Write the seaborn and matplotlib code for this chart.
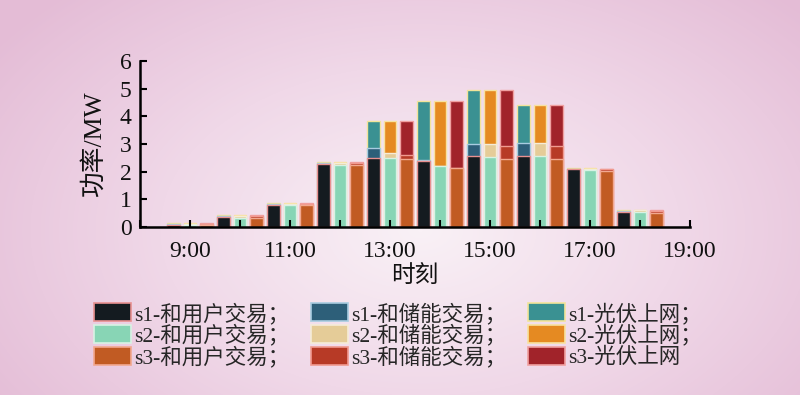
import numpy as np
import pandas as pd
import matplotlib
matplotlib.use("Agg")
import matplotlib.pyplot as plt
import seaborn as sns
from matplotlib.patches import Patch
from matplotlib.colors import LinearSegmentedColormap

# ---------------- data ----------------
hours = [9, 10, 11, 12, 13, 14, 15, 16, 17, 18]
tick_hours = [9, 11, 13, 15, 17, 19]
tick_labels = ["9:00", "11:00", "13:00", "15:00", "17:00", "19:00"]

s1_user = [0.09, 0.35, 0.80, 2.27, 2.51, 2.38, 2.56, 2.56, 2.08, 0.54]
s1_storage = [0.03, 0.04, 0.03, 0.03, 0.33, 0.03, 0.44, 0.48, 0.03, 0.04]
s1_pv = [0.03, 0.05, 0.04, 0.04, 0.98, 2.16, 1.95, 1.37, 0.03, 0.04]

s2_user = [0.07, 0.34, 0.80, 2.25, 2.49, 2.22, 2.54, 2.56, 2.06, 0.56]
s2_storage = [0.04, 0.06, 0.04, 0.06, 0.19, 0.00, 0.46, 0.48, 0.05, 0.04]
s2_pv = [0.04, 0.03, 0.03, 0.03, 1.14, 2.35, 1.95, 1.37, 0.02, 0.02]

s3_user = [0.06, 0.34, 0.80, 2.25, 2.46, 2.14, 2.45, 2.46, 2.03, 0.51]
s3_storage = [0.04, 0.06, 0.04, 0.06, 0.13, 0.00, 0.46, 0.45, 0.06, 0.08]
s3_pv = [0.03, 0.03, 0.03, 0.03, 1.23, 2.43, 2.04, 1.50, 0.02, 0.03]

labels = {
    ("s1", "user"): "s1-和用户交易；", ("s1", "storage"): "s1-和储能交易；", ("s1", "pv"): "s1-光伏上网；",
    ("s2", "user"): "s2-和用户交易；", ("s2", "storage"): "s2-和储能交易；", ("s2", "pv"): "s2-光伏上网；",
    ("s3", "user"): "s3-和用户交易；", ("s3", "storage"): "s3-和储能交易；", ("s3", "pv"): "s3-光伏上网",
}
colors = {
    ("s1", "user"): "#141b20", ("s1", "storage"): "#2d5f79", ("s1", "pv"): "#3a9192",
    ("s2", "user"): "#88d5b5", ("s2", "storage"): "#e5cc98", ("s2", "pv"): "#e58a22",
    ("s3", "user"): "#c15b23", ("s3", "storage"): "#b73a26", ("s3", "pv"): "#a1232a",
}
edges = {
    ("s1", "user"): "#e89090", ("s1", "storage"): "#a8cce0", ("s1", "pv"): "#f2e49a",
    ("s2", "user"): "#d8f2e4", ("s2", "storage"): "#f5ecd8", ("s2", "pv"): "#f8e2a0",
    ("s3", "user"): "#f2a890", ("s3", "storage"): "#f09a90", ("s3", "pv"): "#f0a0a0",
}
series = {
    "s1": [s1_user, s1_storage, s1_pv],
    "s2": [s2_user, s2_storage, s2_pv],
    "s3": [s3_user, s3_storage, s3_pv],
}
offsets = {"s1": -1/3, "s2": 0.0, "s3": 1/3}
layers = ["user", "storage", "pv"]

# ---------------- style ----------------
sns.set_theme(style="ticks")
FAM = ["Liberation Serif", "Noto Sans CJK SC", "DejaVu Sans"]
plt.rcParams["font.family"] = FAM
plt.rcParams["axes.unicode_minus"] = False

fig = plt.figure(figsize=(8, 3.95), dpi=100)

# background radial gradient
bg = fig.add_axes([0, 0, 1, 1], zorder=-10)
yy, xx = np.mgrid[0:395, 0:800]
r = np.sqrt(((xx - 420) / 520.0) ** 2 + ((yy - 230) / 330.0) ** 2)
r = np.clip(r, 0, 1)
cmap = LinearSegmentedColormap.from_list("bgp", ["#f9f1f6", "#f0d8e8", "#e4bcd6"])
bg.imshow(r, cmap=cmap, aspect="auto", extent=[0, 1, 0, 1], vmin=0, vmax=1)
bg.set_axis_off()

ax = fig.add_axes([0.175, 0.4253, 0.6875, 0.4203])
ax.set_facecolor("none")
ax.set_axisbelow(False)

for s, vals in series.items():
    cum = np.cumsum(np.array(vals), axis=0)
    xs = [h + offsets[s] for h in hours]
    for li in [2, 1, 0]:
        key = (s, layers[li])
        df = pd.DataFrame({"x": xs, "y": cum[li]})
        sns.barplot(data=df, x="x", y="y", native_scale=True, width=0.25,
                    color=colors[key], saturation=1, errorbar=None,
                    edgecolor=edges[key], linewidth=1.0, ax=ax)

ax.set_xlim(8, 19)
ax.set_ylim(0, 6)
ax.set_xticks(range(8, 20))
ax.set_xticklabels(["" if h not in tick_hours else tick_labels[tick_hours.index(h)] for h in range(8, 20)])
ax.set_yticks(range(0, 7))
ax.tick_params(axis="both", direction="in", length=5, width=1.5, colors="black",
               labelsize=17, labelcolor="#111111")
ax.tick_params(axis="y", pad=6)
ax.tick_params(axis="x", pad=10)
for t in ax.get_xticklines() + ax.get_yticklines():
    t.set_zorder(5)
sns.despine(ax=ax)
for sp in ["left", "bottom"]:
    ax.spines[sp].set_linewidth(1.8)
    ax.spines[sp].set_color("black")

ax.set_xlabel("时刻", fontsize=17, family=FAM, labelpad=3, color="#111111")
ax.set_ylabel("功率/MW", fontsize=18.5, family=FAM, labelpad=10, color="#111111")

order = [("s1", "user"), ("s2", "user"), ("s3", "user"),
         ("s1", "storage"), ("s2", "storage"), ("s3", "storage"),
         ("s1", "pv"), ("s2", "pv"), ("s3", "pv")]
handles = [Patch(facecolor=colors[k], edgecolor=edges[k], linewidth=1.2, label=labels[k]) for k in order]
fig.legend(handles=handles, loc="center", bbox_to_anchor=(0.4975, 0.150), ncol=3,
           frameon=False, handlelength=1.72, handleheight=0.9,
           handletextpad=0.15, columnspacing=1.0, labelspacing=0.0,
           borderpad=0.0, borderaxespad=0.0,
           prop={"family": FAM, "size": 15.5})

fig.savefig("out.png", dpi=100)
